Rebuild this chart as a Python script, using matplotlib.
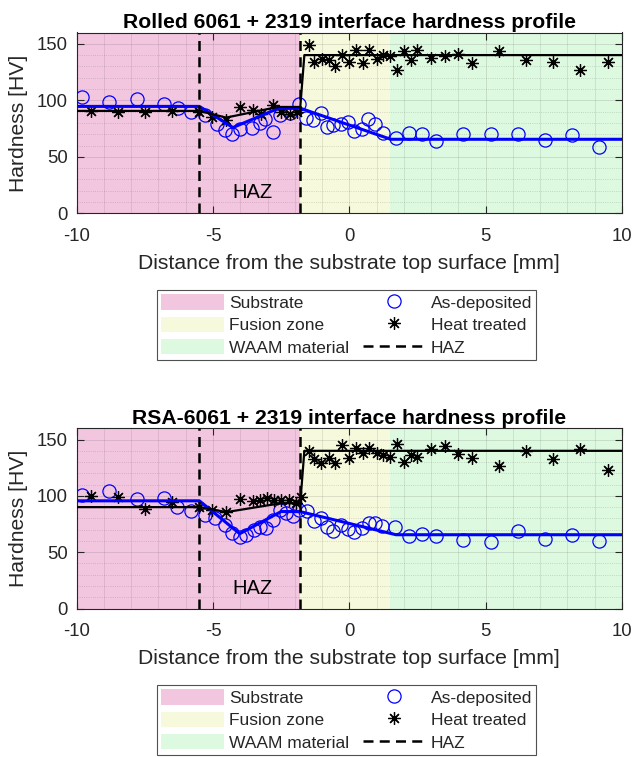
import matplotlib
matplotlib.use('Agg')
import matplotlib.pyplot as plt
from matplotlib.patches import Patch
from matplotlib.lines import Line2D
from matplotlib.ticker import MultipleLocator

plt.rcParams['font.family'] = ['Liberation Sans', 'DejaVu Sans']
plt.rcParams['axes.unicode_minus'] = False

# ---------------- data ----------------
titles = ['Rolled 6061 + 2319 interface hardness profile',
          'RSA-6061 + 2319 interface hardness profile']
zone_names = ['Substrate', 'Fusion zone', 'WAAM material']
zone_edges = [-10, -1.8, 1.5, 10]
zone_colors = ['#F3C6E0', '#F7F9DC', '#DDF9DF']
haz_x = [-5.5, -1.8]
x_ticks = [-10, -5, 0, 5, 10]
y_ticks = [0, 50, 100, 150]

# Rolled 6061 (top)
top_ad_x = [-9.81, -8.8, -7.8, -6.8, -6.3, -5.79, -5.3, -4.87, -4.57, -4.29, -4.02, -3.56, -3.29, -3.11,
            -2.80, -2.56, -2.19, -1.85, -1.58, -1.32, -1.03, -0.83, -0.61, -0.30, -0.04, 0.18, 0.46,
            0.69, 0.95, 1.22, 1.71, 2.19, 2.68, 3.17, 4.17, 5.18, 6.18, 7.18, 8.16, 9.16]
top_ad_y = [103, 98.5, 101.5, 97, 93.5, 89.7, 86.8, 79.4, 74, 70.6, 75, 75.9, 80, 83.8,
            72, 86.8, 88.8, 96.5, 84, 82.3, 88.8, 76.4, 78.5, 79.4, 80.8, 72.9, 75,
            83.8, 79.4, 71.1, 66.7, 71.5, 70, 63.8, 70, 70.3, 70.3, 64.7, 69.1, 58.8]
top_ht_x = [-9.48, -8.49, -7.5, -6.5, -5.51, -5.02, -4.51, -4.02, -3.53, -3.23, -2.80, -2.5, -2.19,
            -1.93, -1.49, -1.28, -1.0, -0.75, -0.51, -0.27, 0.0, 0.24, 0.49, 0.73, 1.0, 1.24, 1.49,
            1.73, 2.01, 2.26, 2.48, 2.99, 3.5, 3.99, 4.49, 5.48, 6.48, 7.47, 8.47, 9.48]
top_ht_y = [90.6, 89.7, 89.7, 90.6, 89.7, 85.3, 82.3, 94.1, 91.2, 88.3, 95.6, 89.7, 88.3,
            89.7, 148.5, 133.8, 136.8, 135.3, 130, 139.7, 133.8, 144.1, 132.9, 144.1, 136.8, 139.7, 138.8,
            127.1, 143.5, 135.9, 144.1, 137.7, 139.1, 140.6, 132.9, 143.5, 135.9, 133.8, 127.1, 133.8]
top_fit_ad_x = [-10, -5.5, -4.27, -2.62, -1.8, 1.52, 10]
top_fit_ad_y = [94.6, 94.6, 75.9, 92.7, 93, 65.5, 65.5]
top_fit_ht_x = [-10, -5.5, -4.52, -2.62, -1.8, -1.65, 10]
top_fit_ht_y = [90.6, 90.6, 84.7, 94.1, 94.1, 140, 140]

# RSA-6061 (bottom)
bot_ad_x = [-9.81, -8.8, -7.8, -6.8, -6.31, -5.79, -5.3, -4.94, -4.57, -4.29, -4.02, -3.78, -3.51,
            -3.29, -3.05, -2.8, -2.56, -2.31, -2.07, -1.85, -1.55, -1.28, -1.03, -0.83, -0.59, -0.30,
            -0.06, 0.18, 0.46, 0.71, 0.95, 1.2, 1.68, 2.19, 2.68, 3.17, 4.17, 5.18, 6.18, 7.18, 8.16, 9.16]
bot_ad_y = [101, 104.7, 97.1, 98, 90, 87, 83.2, 80.3, 74.3, 67, 63.5, 65.5, 69.9,
            72.8, 71.4, 78.8, 87.6, 84.7, 81.7, 87.6, 86.5, 78.1, 80.3, 72.3, 68.4, 74.3,
            70.5, 67.6, 71.4, 75.8, 75.8, 73.5, 72.3, 64, 66.1, 64.6, 61.1, 58.7, 68.4, 61.7, 65.5, 59.6]
bot_ht_x = [-9.48, -8.49, -7.5, -6.5, -5.51, -5.02, -4.51, -4.02, -3.53, -3.29, -3.02, -2.77, -2.5,
            -2.22, -1.97, -1.77, -1.49, -1.28, -1.03, -0.75, -0.51, -0.27, 0.0, 0.24, 0.49, 0.73,
            1.0, 1.24, 1.49, 1.73, 1.99, 2.26, 2.48, 2.99, 3.5, 3.99, 4.49, 5.48, 6.48, 7.47, 8.47, 9.48]
bot_ht_y = [100, 98.8, 88.2, 95, 90, 87.6, 86.1, 97.1, 95.6, 96.5, 98, 95.9, 96.5,
            95.9, 93.5, 98.8, 140, 132.5, 129.5, 133.4, 129, 145.1, 133.4, 142.2, 137.8, 142.7,
            137.8, 136.3, 134.8, 146, 130.4, 136.3, 134.8, 141.3, 144.2, 137.2, 133.4, 126.5, 140, 132.5, 141.3, 123]
bot_fit_ad_x = [-10, -5.5, -4.02, -2.5, -1.8, 1.71, 10]
bot_fit_ad_y = [95.6, 95.6, 66.4, 86.1, 86, 65.5, 65.5]
bot_fit_ht_x = [-10, -5.5, -4.51, -2.5, -1.8, -1.65, 10]
bot_fit_ht_y = [90, 90, 85.6, 93.5, 93.5, 140, 140]

series_labels = ['As-deposited', 'Heat treated', 'HAZ']

# ---------------- figure ----------------
W, H = 634, 757
fig = plt.figure(figsize=(W / 100, H / 100), dpi=100)

def px_axes(left, top, right, bottom):
    return fig.add_axes([left / W, 1 - bottom / H, (right - left) / W, (bottom - top) / H])

star = (8, 2, 0)
TXT = '#262626'

panels = [
    (px_axes(76.7, 32.5, 622, 213.3), titles[0], top_ad_x, top_ad_y, top_ht_x, top_ht_y,
     top_fit_ad_x, top_fit_ad_y, top_fit_ht_x, top_fit_ht_y, 290),
    (px_axes(76.7, 428.3, 622, 608.5), titles[1], bot_ad_x, bot_ad_y, bot_ht_x, bot_ht_y,
     bot_fit_ad_x, bot_fit_ad_y, bot_fit_ht_x, bot_fit_ht_y, 685),
]

for (ax, title, adx, ady, htx, hty, fadx, fady, fhtx, fhty, leg_top) in panels:
    for i in range(3):
        ax.axvspan(zone_edges[i], zone_edges[i + 1], color=zone_colors[i], lw=0, zorder=0.5)
    ax.plot(adx, ady, ls='none', marker='o', ms=9.5, mfc='none', mec='#0000FF', mew=0.9, zorder=3)
    ax.plot(htx, hty, ls='none', marker=star, ms=9, mfc='none', mec='black', mew=0.9, zorder=3)
    ax.plot(fadx, fady, color='#0000FF', lw=2.2, zorder=4)
    ax.plot(fhtx, fhty, color='black', lw=1.6, zorder=4)
    for hx in haz_x:
        ax.axvline(hx, color='black', lw=1.8, ls=(0, (4, 2.5)), zorder=5)
    ax.text(-3.55, 18, 'HAZ', fontsize=14.5, ha='center', va='center', zorder=6)

    ax.set_xlim(-10, 10)
    ax.set_ylim(0, 160)
    ax.set_xticks(x_ticks)
    ax.set_yticks(y_ticks)
    ax.xaxis.set_minor_locator(MultipleLocator(1))
    ax.yaxis.set_minor_locator(MultipleLocator(10))
    ax.tick_params(which='major', direction='in', length=5, width=0.8, top=True, right=True,
                   labelsize=13.3, colors=TXT, labelcolor=TXT)
    ax.tick_params(axis='x', which='major', pad=10.5)
    ax.tick_params(axis='y', which='major', pad=6.5)
    ax.tick_params(which='minor', length=0, top=True, right=True)
    ax.grid(which='major', color=TXT, alpha=0.15, lw=0.6)
    ax.grid(which='minor', axis='x', color=TXT, alpha=0.12, lw=0.6)
    ax.grid(which='minor', axis='y', color=TXT, alpha=0.22, lw=0.6, ls=':')
    for s in ax.spines.values():
        s.set_color(TXT)
        s.set_linewidth(0.8)
    ax.set_title(title, fontsize=15.2, fontweight='bold', pad=3)
    ax.set_xlabel('Distance from the substrate top surface [mm]', fontsize=15.2, color=TXT, labelpad=6.5)
    ax.set_ylabel('Hardness [HV]', fontsize=15.2, color=TXT, labelpad=6)

    handles = [Patch(facecolor=c, edgecolor='none') for c in zone_colors] + [
        Line2D([], [], ls='none', marker='o', ms=9.5, mfc='none', mec='#0000FF', mew=0.9),
        Line2D([], [], ls='none', marker=star, ms=9, mfc='none', mec='black', mew=0.9),
        Line2D([], [], color='black', lw=1.8, ls=(0, (4, 2.5))),
    ]
    labels = zone_names + series_labels
    leg = fig.legend(handles, labels, ncol=2, loc='upper left',
                     bbox_to_anchor=(157 / W, 1 - leg_top / H), bbox_transform=fig.transFigure,
                     fontsize=12.5, frameon=True, fancybox=False, shadow=False,
                     handlelength=3.6, handleheight=1.0, handletextpad=0.3,
                     columnspacing=0.8, labelspacing=0.32, borderpad=0.25, borderaxespad=0)
    leg.get_frame().set_edgecolor(TXT)
    leg.get_frame().set_linewidth(0.8)
    for t in leg.get_texts():
        t.set_color(TXT)

fig.savefig('out.png', dpi=100)
